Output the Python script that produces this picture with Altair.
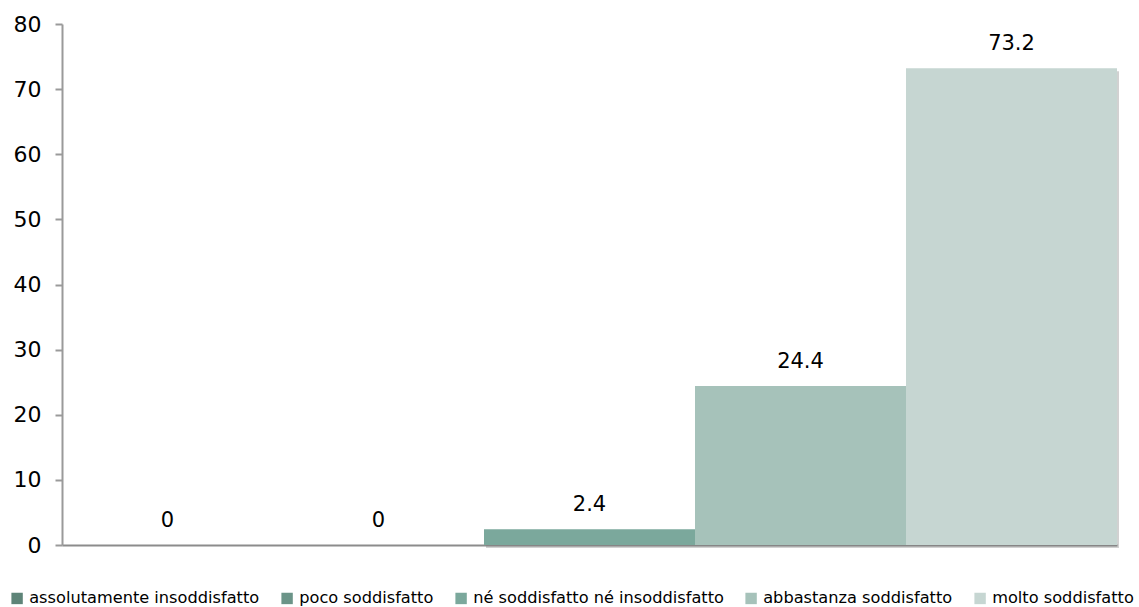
import altair as alt
import pandas as pd

# Satisfaction levels and their share (%)
categories = [
    "assolutamente insoddisfatto",
    "poco soddisfatto",
    "né soddisfatto né insoddisfatto",
    "abbastanza soddisfatto",
    "molto soddisfatto",
]
values = [0, 0, 2.4, 24.4, 73.2]
colors = ["#5E8478", "#6B9488", "#7BA89C", "#A6C2BA", "#C6D6D2"]
y_ticks = [0, 10, 20, 30, 40, 50, 60, 70, 80]

df = pd.DataFrame({"categoria": categories, "valore": values})
df["etichetta"] = [f"{v:g}" for v in values]

x_enc = alt.X(
    "categoria:N",
    sort=categories,
    scale=alt.Scale(paddingInner=0, paddingOuter=0),
    axis=alt.Axis(
        title=None, labels=False, ticks=False,
        domainColor="#8C8C8C", domainWidth=2,
    ),
)
y_scale = alt.Scale(domain=[0, 80], nice=False)
y_axis = alt.Axis(
    title=None, values=y_ticks, grid=False,
    domainColor="#9A9A9A", domainWidth=2,
    tickColor="#9A9A9A", tickWidth=2, tickSize=7,
    labelFont="DejaVu Sans", labelFontSize=22, labelColor="#000000",
    labelPadding=14,
)

# soft drop shadow behind each bar
shadow = alt.Chart(df).mark_bar(
    color="#7A7A7A", opacity=0.35, xOffset=2, yOffset=3
).encode(
    x=x_enc,
    y=alt.Y("valore:Q", scale=y_scale, axis=y_axis),
)

bars = alt.Chart(df).mark_bar().encode(
    x=x_enc,
    y=alt.Y("valore:Q", scale=y_scale, axis=y_axis),
    color=alt.Color(
        "categoria:N",
        sort=categories,
        scale=alt.Scale(domain=categories, range=colors),
        legend=alt.Legend(
            title=None, orient="none", direction="horizontal",
            legendX=-53, legendY=566,
            symbolType="square", symbolSize=130, symbolStrokeWidth=0,
            labelFont="DejaVu Sans", labelFontSize=16.2, labelColor="#000000",
            labelLimit=400, columnPadding=19, symbolOffset=0,
            labelOffset=4,
        ),
    ),
)

labels = alt.Chart(df).mark_text(
    font="DejaVu Sans", fontSize=21, color="#000000",
    baseline="alphabetic", dy=-18,
).encode(
    x=alt.X("categoria:N", sort=categories),
    y=alt.Y("valore:Q", scale=y_scale),
    text="etichetta:N",
)

chart = (
    alt.layer(shadow, bars, labels)
    .properties(
        width=1055, height=521,
        autosize="none",
        padding={"left": 62, "top": 24, "right": 22, "bottom": 62},
        background="#FFFFFF",
    )
    .configure_view(stroke=None)
)

chart.save("out.html", embed_options={"renderer": "svg", "actions": False})
